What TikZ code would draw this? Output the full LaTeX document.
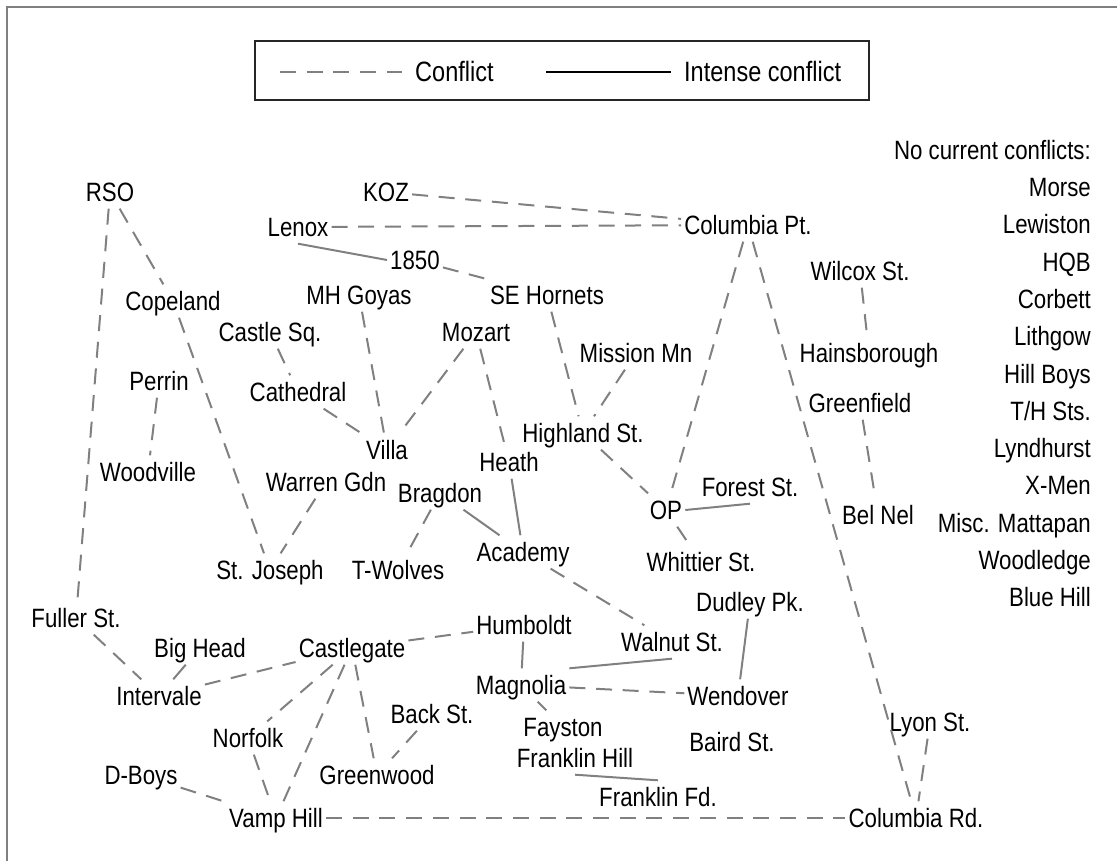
\documentclass[tikz,border=0pt]{standalone}
\usepackage{fontspec}
\setmainfont{Liberation Sans}[FakeStretch=0.84]
\usepackage{tikz}
\usetikzlibrary{arrows}
\definecolor{edgegray}{RGB}{128,128,128}
\tikzstyle{every conflict} = []
\tikzstyle{every intense} = []
\tikzstyle{conflict} = [draw=edgegray, line width=2pt, dash pattern=on 16pt off 10.7pt, every conflict]
\tikzstyle{intense} = [draw=edgegray, line width=2pt, every intense]
\tikzset{
    gang/.style = {rectangle, fill=none, draw=none, text=black, inner xsep=3pt, inner ysep=7pt,
                   text height=19pt, text depth=0pt, font=\fontsize{26.5}{30}\selectfont},
    quiet/.style = {gang, anchor=east},
    key/.style = {gang, anchor=west, font=\fontsize{28}{32}\selectfont, text height=20pt}
}

\begin{document}
\begin{tikzpicture}[x=1pt, y=-1pt]
            \useasboundingbox (0,0) rectangle (1117,861);
            \draw[edgegray, line width=1.5pt] (7,861) -- (7,7) -- (1117,7);

            % legend
            \draw[black!85, line width=2pt] (255,41) rectangle (869,100);
            \coordinate (c1) at (280,72);
            \coordinate (c2) at (402,72);
            \coordinate (i1) at (546,72);
            \coordinate (i2) at (671,72);
            \path (c1) edge[conflict] (c2);
            \draw[black, line width=2pt] (i1) -- (i2);
            \node[key] (lconf) at (412,72) {Conflict};
            \node[key] (lint)  at (681,72) {Intense conflict};

            % gangs
            \node[gang] (rso)        at (110,192) {RSO};
            \node[gang] (koz)        at (386,192) {KOZ};
            \node[gang] (lenox)      at (298,227) {Lenox};
            \node[gang] (colpt)      at (748,225) {Columbia Pt.};
            \node[gang] (n1850)      at (415,260) {1850};
            \node[gang] (sehornets)  at (547,295) {SE Hornets};
            \node[gang] (mhgoyas)    at (359,295) {MH Goyas};
            \node[gang] (copeland)   at (173,301) {Copeland};
            \node[gang] (wilcox)     at (860,271) {Wilcox St.};
            \node[gang] (castlesq)   at (270,332) {Castle Sq.};
            \node[gang] (mozart)     at (476,332) {Mozart};
            \node[gang] (mission)    at (636,353) {Mission Mn};
            \node[gang] (hains)      at (869,353) {Hainsborough};
            \node[gang] (perrin)     at (159,381) {Perrin};
            \node[gang] (cathedral)  at (298,392) {Cathedral};
            \node[gang] (greenfield) at (860,403) {Greenfield};
            \node[gang] (highland)   at (583,433) {Highland St.};
            \node[gang] (villa)      at (387,450) {Villa};
            \node[gang] (heath)      at (509,462) {Heath};
            \node[gang] (woodville)  at (148,472) {Woodville};
            \node[gang] (warren)     at (326,482) {Warren Gdn};
            \node[gang] (bragdon)    at (440,493) {Bragdon};
            \node[gang] (forest)     at (750,487) {Forest St.};
            \node[gang] (op)         at (666,510) {OP};
            \node[gang] (belnel)     at (878,515) {Bel Nel};
            \node[gang] (academy)    at (523,552) {Academy};
            \node[gang] (stjoseph)   at (270,570) {St. Joseph};
            \node[gang] (twolves)    at (398,570) {T-Wolves};
            \node[gang] (whittier)   at (701,562) {Whittier St.};
            \node[gang] (fuller)     at (76,618)  {Fuller St.};
            \node[gang] (humboldt)   at (524,625) {Humboldt};
            \node[gang] (dudley)     at (750,602) {Dudley Pk.};
            \node[gang] (bighead)    at (200,648) {Big Head};
            \node[gang] (castlegate) at (352,648) {Castlegate};
            \node[gang] (walnut)     at (672,642) {Walnut St.};
            \node[gang] (intervale)  at (159,696) {Intervale};
            \node[gang] (magnolia)   at (521,685) {Magnolia};
            \node[gang] (wendover)   at (738,696) {Wendover};
            \node[gang] (backst)     at (432,714) {Back St.};
            \node[gang] (fayston)    at (563,727) {Fayston};
            \node[gang] (norfolk)    at (248,738) {Norfolk};
            \node[gang] (baird)      at (732,742) {Baird St.};
            \node[gang] (lyon)       at (930,722) {Lyon St.};
            \node[gang] (frhill)     at (575,758) {Franklin Hill};
            \node[gang] (greenwood)  at (377,775) {Greenwood};
            \node[gang] (dboys)      at (141,775) {D-Boys};
            \node[gang] (frfd)       at (658,797) {Franklin Fd.};
            \node[gang] (vamphill)   at (276,818) {Vamp Hill};
            \node[gang] (colrd)      at (916,818) {Columbia Rd.};

            % no current conflicts
            \foreach \name [count=\i from 0] in {No current conflicts:, Morse, Lewiston, HQB, Corbett,
                    Lithgow, Hill Boys, {T/H Sts.}, Lyndhurst, X-Men, Misc. Mattapan, Woodledge, Blue Hill}
                \node[quiet] (quiet\i) at (1094,150+37.25*\i) {\name};

            \path   (rso)        edge[conflict] (fuller)
                    (rso)        edge[conflict] (copeland)
                    (copeland)   edge[conflict] (stjoseph)
                    (koz)        edge[conflict] (colpt)
                    (lenox)      edge[conflict] (colpt)
                    (n1850)      edge[conflict] (sehornets)
                    (castlesq)   edge[conflict] (cathedral)
                    (cathedral)  edge[conflict] (villa)
                    (mhgoyas)    edge[conflict] (villa)
                    (mozart)     edge[conflict] (villa)
                    (mozart)     edge[conflict] (heath)
                    (perrin)     edge[conflict] (woodville)
                    (warren)     edge[conflict] (stjoseph)
                    (bragdon)    edge[conflict] (twolves)
                    (sehornets)  edge[conflict] (highland)
                    (mission)    edge[conflict] (highland)
                    (highland)   edge[conflict] (op)
                    (colpt)      edge[conflict] (op)
                    (colpt)      edge[conflict] (colrd)
                    (wilcox)     edge[conflict] (hains)
                    (greenfield) edge[conflict] (belnel)
                    (op)         edge[conflict] (whittier)
                    (academy)    edge[conflict] (walnut)
                    (fuller)     edge[conflict] (intervale)
                    (intervale)  edge[conflict] (castlegate)
                    (castlegate) edge[conflict] (humboldt)
                    (castlegate) edge[conflict] (norfolk)
                    (castlegate) edge[conflict] (vamphill)
                    (castlegate) edge[conflict] (greenwood)
                    (backst)     edge[conflict] (greenwood)
                    (norfolk)    edge[conflict] (vamphill)
                    (dboys)      edge[conflict] (vamphill)
                    (vamphill)   edge[conflict] (colrd)
                    (magnolia)   edge[conflict] (wendover)
                    (lyon)       edge[conflict] (colrd);

            \path   (lenox.south)  edge[intense] (n1850.west)
                    (heath)        edge[intense] (academy)
                    (bragdon)      edge[intense] (academy)
                    (op.east)      edge[intense] (forest.south)
                    (bighead)      edge[intense] (intervale)
                    (humboldt)     edge[intense] (magnolia)
                    (magnolia)     edge[intense] (fayston)
                    (walnut.south) edge[intense] (magnolia.north east)
                    (dudley)       edge[intense] (wendover)
                    (frhill.south) edge[intense] (frfd.north);
        \end{tikzpicture}
\end{document}
